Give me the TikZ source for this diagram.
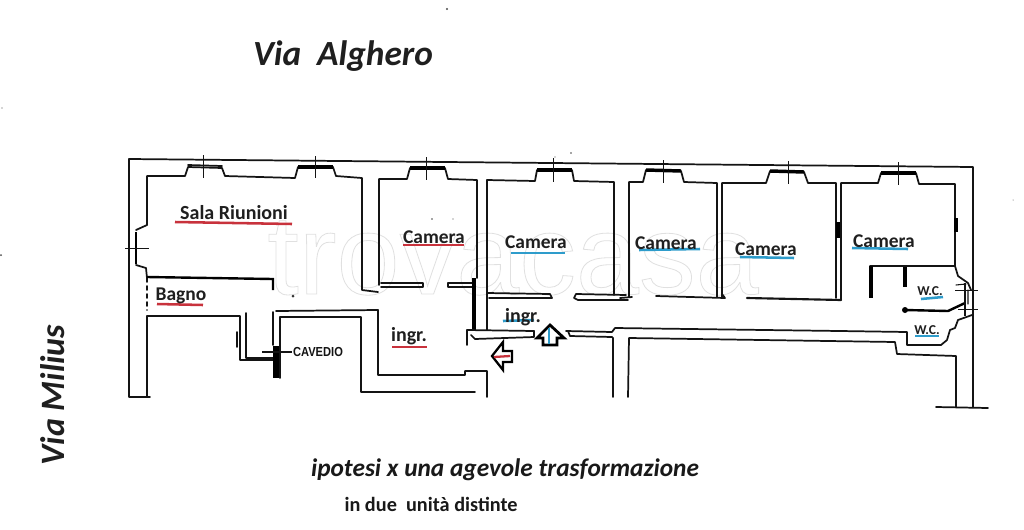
\documentclass[tikz,border=0pt]{standalone}
\usepackage{fontspec}
\setmainfont{Carlito}
\newfontfamily\arialf{Liberation Sans}
\definecolor{ink}{HTML}{141414}
\definecolor{redline}{HTML}{C8323C}
\definecolor{blueline}{HTML}{2E9CCB}
\tikzset{
  wall/.style={draw=ink,line width=1.3pt,line join=round,line cap=round},
  thinwall/.style={draw=ink,line width=0.8pt,line join=round,line cap=round},
  thickwall/.style={draw=black,line width=3pt},
  glass/.style={draw=black,line width=2.6pt},
  tick/.style={draw=ink,line width=0.7pt},
  redul/.style={draw=redline,line width=1.9pt},
  blueul/.style={draw=blueline,line width=1.9pt},
  lab/.style={font=\bfseries\fontsize{14.6}{16}\selectfont,text=black!88,inner sep=0pt},
  big/.style={font=\bfseries\itshape\fontsize{26}{30}\selectfont,text=black!88,inner sep=0pt},
}
\begin{document}
\begin{tikzpicture}[x=0.75pt,y=-0.75pt]
\useasboundingbox (0,0) rectangle (1024,529);
\fill[white] (0,0) rectangle (1024,529);
% watermark
\node[inner sep=0pt] (wm) at (513,258) {\special{pdf:code q 1 Tr 0.6 w 0.88 0.88 0.88 RG}\arialf\fontsize{85}{87}\selectfont trovacasa\special{pdf:code Q}};
% outer walls
\draw[wall] (150,397)--(129,397)--(129,159)--(973,167)--(973,407);
\draw[wall] (936,407)--(988,408);
\draw[thinwall] (956,285)--(966,284) (968,290)--(968,304);
% Sala
\draw[wall] (147,225)--(147,176)--(185,176)--(188,167)--(222,168)--(225,176)--(295,178)--(298,167)--(333,167)--(336,176)--(362,178)--(362,290)--(378,292);
\draw[wall] (147,225)--(136,230);
\draw[wall] (136,265)--(146,268)--(147,278);
\draw[wall,dashed] (147,278)--(147,310);
\draw[glass] (298,167)--(333,167);
\draw[wall] (188,165)--(222,166);
\draw[thickwall,line width=2.2pt] (136,232)--(136,264);
\draw[tick] (125,248)--(149,248) (203,155)--(203,178) (315,156)--(315,178);
% lower left
\draw[wall] (147,397)--(147,316)--(240,316)--(240,360)--(276,360);
\draw[wall] (246,313)--(246,358)--(274,358);
\draw[wall] (276,311)--(378,310)--(378,375)--(465,375)--(465,371)--(487,371)--(487,397);
\draw[wall] (273,312)--(273,345);
\draw[wall] (280,378)--(280,317)--(361,317)--(361,392)--(475,392);
\draw[wall] (237,332)--(237,347);
\draw[thickwall,line width=4pt] (276,346)--(276,378);
\draw[thickwall,line width=1.8pt] (147,277)--(273,279)--(273,290);
\fill[black!80] (293,296) circle (1.5);
\draw[tick,line width=1pt] (262,352)--(292,352);
% Camera 2
\draw[wall] (379,285)--(379,179)--(407,179)--(410,168)--(445,168)--(448,179)--(477,180)--(477,278);
\draw[glass] (410,168)--(445,168);
\draw[tick] (426,157)--(426,180);
\draw[wall] (381,283)--(423,283)--(423,287)--(381,287);
\draw[wall] (472,283)--(448,283)--(448,287)--(472,287);
\draw[thickwall] (474,278)--(474,331);
% Camera 3
\draw[wall] (487,330)--(487,180)--(535,181)--(537,170)--(572,170)--(574,181)--(614,182)--(614,295);
\draw[glass] (537,170)--(572,170);
\draw[tick] (553,158)--(553,182);
\draw[wall] (487,293)--(550,294)--(552,298)--(489,298);
\draw[wall] (626,295)--(576,294)--(574,298)--(578,300)--(628,300);
% entrance
\draw[wall] (534,331)--(467,330)--(467,345);
\draw[wall] (534,331)--(534,337)--(475,339)--(471,335);
\draw[wall] (566,331)--(612,332)--(615,328)--(840,331);
\draw[wall] (568,331)--(570,336)--(612,337)--(613,338)--(613,397);
\draw[wall] (628,397)--(629,338)--(895,342)--(897,354)--(956,356)--(956,407);
% Camera 4
\draw[wall] (629,297)--(629,182)--(643,182)--(646,170)--(681,171)--(684,182)--(717,183)--(717,297);
\draw[glass] (646,170)--(681,171);
\draw[tick] (663,160)--(663,183);
\draw[wall] (656,296)--(725,298)--(722,294);
\draw[wall] (620,298)--(632,297);
% Camera 5
\draw[wall] (722,297)--(722,183)--(766,183)--(770,171)--(804,172)--(808,183)--(836,183)--(836,298);
\draw[glass] (770,171)--(804,172);
\draw[tick] (788,161)--(788,184);
\draw[wall,line width=1.6pt] (747,298)--(841,300);
% Camera 6
\draw[wall] (841,300)--(841,183)--(878,183)--(881,173)--(916,173)--(919,184)--(955,184)--(955,266);
\draw[glass] (881,173)--(916,173);
\draw[tick] (898,162)--(898,185);
\draw[thickwall,line width=3pt] (838,222)--(838,238);
\draw[thickwall,line width=3pt] (956,218)--(956,232);
% WC
\draw[wall] (955,266)--(870,266);
\draw[thickwall,line width=2.6pt] (871,266)--(871,298);
\draw[thickwall,line width=2.6pt] (905,267)--(905,287);
\draw[wall] (955,266)--(958,276)--(968,283)--(971,290);
\draw[thickwall,line width=1.8pt] (905,310)--(948,311)--(965,303);
\fill[black] (905,310) circle (3);
\draw[wall] (972,315)--(958,320)--(955,328)--(950,330)--(947,340)--(941,345)--(907,345)--(907,332)--(840,331);
\draw[tick] (955,290)--(978,290) (958,309)--(978,309);
\draw[tick,line width=1pt] (965,283)--(965,316);
% arrows
\draw[black,line width=1.7pt,fill=white,line join=miter] (492,356)--(503,342)--(503,351)--(512,351)--(512,362)--(503,362)--(503,370)--cycle;
\draw[redline,line width=1.7pt] (494,357)--(510,356);
\draw[black,line width=2.1pt,fill=white,line join=miter] (550,325)--(564,338)--(557,338)--(557,345)--(543,345)--(543,338)--(537,338)--cycle;
\draw[blueline,line width=1.9pt] (549,328)--(549,344);
% underlines
\draw[redul] (175,222)--(292,224);
\draw[redul] (157,304)--(203,305);
\draw[redul] (403,245)--(464,245);
\draw[redul] (392,347)--(427,347);
\draw[blueul] (511,253)--(565,253);
\draw[blueul] (503,321)--(534,320);
\draw[blueul] (639,250)--(700,249);
\draw[blueul] (740,257)--(794,258);
\draw[blueul] (852,248)--(908,249);
\draw[blueul] (921,299)--(943,297);
\draw[blueul] (915,336)--(939,336);
% labels
\node[lab,font=\bfseries\fontsize{15}{17}\selectfont] (sala) at (234,213) {Sala Riunioni};
\node[lab] (bagno) at (181,296) {Bagno};
\node[lab] (c1) at (434,237) {Camera};
\node[lab] (c2) at (536,242) {Camera};
\node[lab] (c3) at (666,243) {Camera};
\node[lab] (c4) at (766,249) {Camera};
\node[lab] (c5) at (884,241) {Camera};
\node[lab,font=\bfseries\fontsize{15}{17}\selectfont] (i1) at (409,336) {ingr.};
\node[lab,font=\bfseries\fontsize{15}{17}\selectfont] (i2) at (523,317) {ingr.};
\node[lab,font=\bfseries\fontsize{10.2}{12}\selectfont] (wc1) at (930,291) {W.C.};
\node[lab,font=\bfseries\fontsize{10.2}{12}\selectfont] (wc2) at (927,330) {W.C.};
\node[inner sep=0pt,text=ink] (cav) at (318,352) {\arialf\bfseries\fontsize{9.8}{11}\selectfont\addfontfeatures{FakeStretch=0.85}CAVEDIO};
\node[big,font=\bfseries\itshape\fontsize{26.5}{30}\selectfont] (alghero) at (343,56) {Via\ \ Alghero};
\node[big,font=\bfseries\itshape\fontsize{25.6}{30}\selectfont,rotate=90] (milius) at (53,395) {Via Milius};
\node[inner sep=0pt,text=black!90,font=\bfseries\itshape\fontsize{19}{22}\selectfont] (ipo) at (505,470) {ipotesi x una agevole trasformazione};
\node[inner sep=0pt,text=black!90,font=\bfseries\fontsize{15.2}{18}\selectfont] (due) at (431,504) {in due\ \ unit\`a distinte};
% specks
\fill[black!70] (447,9) circle (1.2) (1,255) circle (1) (2,108) circle (0.7) (571,153) circle (0.8) (555,157) circle (0.6) (432,219) circle (0.8) (453,219) circle (0.6) (1013,200) circle (0.5);
\end{tikzpicture}
\end{document}
